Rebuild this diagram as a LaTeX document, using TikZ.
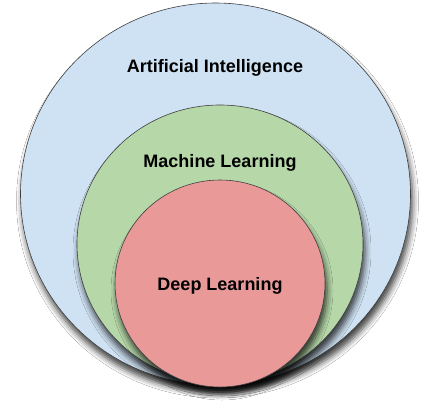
\documentclass[tikz,border=0pt]{standalone}
\usepackage{fontspec}
\setmainfont{Liberation Sans}
\usetikzlibrary{shapes.geometric,shadows.blur}
\definecolor{aiblue}{HTML}{CFE2F3}
\definecolor{mlgreen}{HTML}{B6D7A8}
\definecolor{dlred}{HTML}{EA9999}
\tikzset{
  setring/.style={ellipse, draw=black!75, line width=0.6pt, inner sep=0pt,
    blur shadow={shadow xshift=2pt, shadow yshift=-7pt, shadow blur radius=6pt, shadow opacity=75}},
  setlabel/.style={font=\bfseries\fontsize{18}{21}\selectfont, text=black}
}
\begin{document}
\begin{tikzpicture}[x=1pt,y=-1pt]
\useasboundingbox[fill=white] (0,0) rectangle (431,408);
\node[setring, fill=aiblue, minimum width=390pt, minimum height=382pt] (ai) at (215.5,194) {};
\node[setring, fill=mlgreen, minimum width=286pt, minimum height=278pt] (ml) at (220,244) {};
\node[setring, fill=dlred, minimum width=210pt, minimum height=207pt] (dl) at (220,283.5) {};
\node[setlabel] (ailab) at (215,67.5) {Artificial Intelligence};
\node[setlabel] (mllab) at (220,162.5) {Machine Learning};
\node[setlabel] (dllab) at (220,285.5) {Deep Learning};
\end{tikzpicture}
\end{document}
